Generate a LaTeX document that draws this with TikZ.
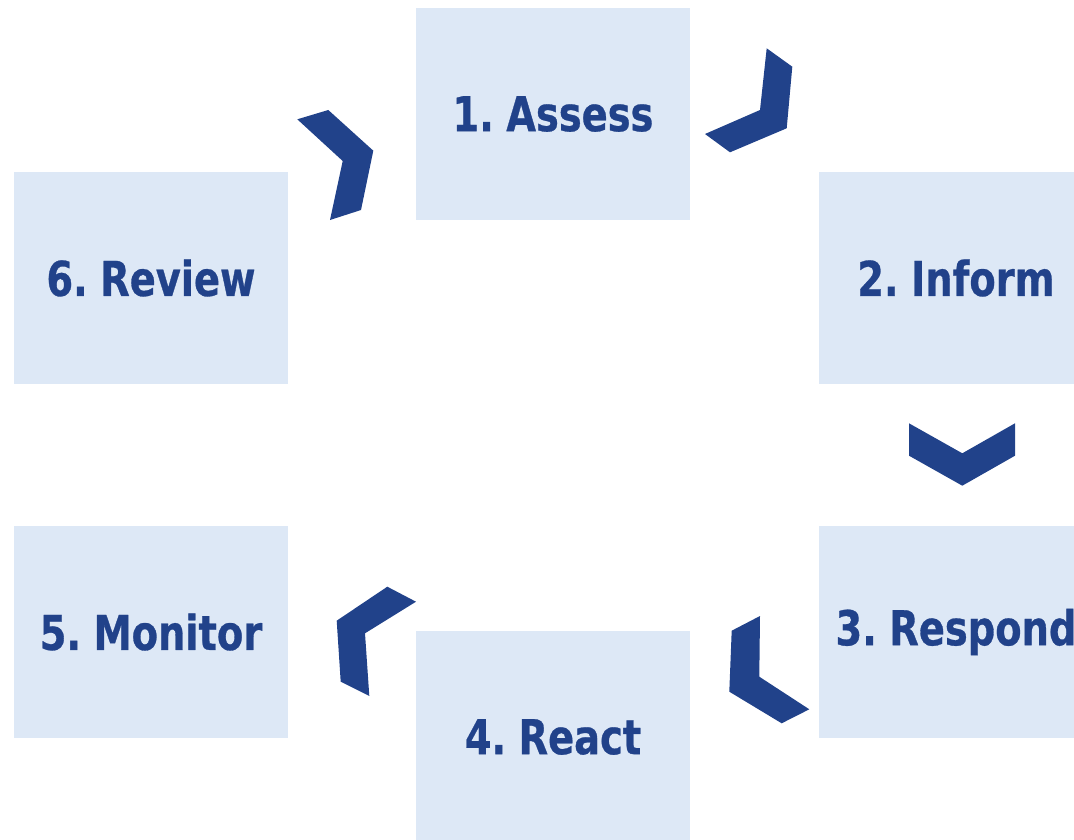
\documentclass[tikz,border=0pt]{standalone}
\usepackage{fontspec}
\usepackage{xcolor}
\newfontfamily\stagefont[FakeStretch=0.8, WordSpace=0.6, FakeBold=0.6]{DejaVu Sans}
\usetikzlibrary{positioning}
\definecolor{boxblue}{RGB}{221,232,246}
\definecolor{darkblue}{RGB}{33,66,138}

\begin{document}
\begin{tikzpicture}[x=1pt, y=-1pt, font=\stagefont\bfseries\fontsize{48}{56}\selectfont]
    \tikzstyle{stage}=[rectangle, fill=boxblue, text=darkblue, minimum width=274pt, minimum height=212pt, inner sep=0pt]
    \tikzstyle{chevron}=[fill=darkblue, draw=none]

    \useasboundingbox (0,0) rectangle (1074,840);

    \node[stage] (assess) at (553,114) {1. Assess};
    \node[stage] (inform) at (956,278) {2. Inform};
    \node[stage] (respond) at (956,632) {3. Respond};
    \node[stage] (react) at (553,737) {4. React};
    \node[stage] (monitor) at (151,632) {5. Monitor};
    \node[stage] (review) at (151,278) {6. Review};

    % chevrons between the stages
    \path[chevron] (297.3,119.3) -- (328.3,110) -- (373.3,150.7) -- (361,210) -- (330,220) -- (342.7,161) -- cycle;
    \path[chevron] (766.7,48.3) -- (792.3,66.7) -- (786.7,128.3) -- (730,152.3) -- (705,134) -- (760,110) -- cycle;
    \path[chevron] (909,423.3) -- (962.3,453.3) -- (1015,423.3) -- (1015,455.7) -- (962.3,485.7) -- (909,455.7) -- cycle;
    \path[chevron] (760,616) -- (731.7,630.7) -- (729.3,691.7) -- (781.7,723.3) -- (809.3,709.3) -- (759.3,676.7) -- cycle;
    \path[chevron] (387.3,586.7) -- (416,601.7) -- (365,633.3) -- (369.3,696) -- (340.7,681.7) -- (336.7,620.7) -- cycle;
\end{tikzpicture}
\end{document}
